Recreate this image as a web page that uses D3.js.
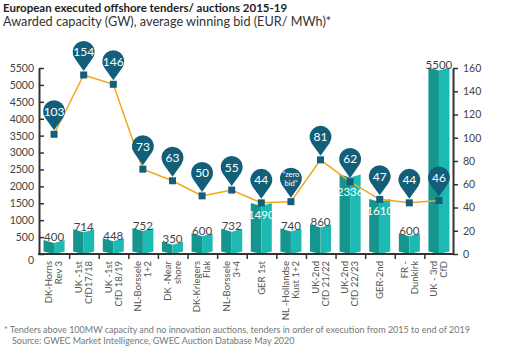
<!DOCTYPE html>
<html>
<head>
<meta charset="utf-8">
<script src="https://cdn.jsdelivr.net/npm/d3@7"></script>
<style>
  body { margin: 0; background: #fff; }
  svg { display: block; font-family: "Lato", "Noto Sans", sans-serif; }
</style>
</head>
<body>
<div id="chart"></div>
<script>
// tenders in order of execution
const tenders = [
    ["DK-Horns", "Rev 3"], ["UK -1st", "CfD17/18"], ["UK -1st", "CfD 18/19"],
    ["NL-Borssele", "1+2"], ["DK -Near", "shore"], ["DK-Kriegers", "Flak"],
    ["NL-Borssele", "3+4"], ["GER 1st"], ["NL -Hollandse", "Kust 1+2"],
    ["UK-2nd", "CfD 21/22"], ["UK-2nd", "CfD 22/23"], ["GER-2nd"],
    ["FR -", "Dunkirk"], ["UK - 3rd", "CfD"]
]
// awarded capacity (MW)
const capacity = [400, 714, 448, 752, 350, 600, 732, 1490, 740, 860, 2336, 1610, 600, 5500]
// average winning bid (EUR/MWh), zero bid shown at the level it is drawn
const bidValues = [103, 154, 146, 73, 63, 50, 55, 44, 45, 81, 62, 47, 44, 46]
const bidLabels = ["103", "154", "146", "73", "63", "50", "55", "44", "\u201Czero|bid\u201D", "81", "62", "47", "44", "46"]
const leftTicks = d3.range(0, 5501, 500)
const rightTicks = d3.range(0, 161, 20)

const W = 512, H = 348
const svg = d3.select('#chart').append('svg')
    .attr('width', W)
    .attr('height', H)

const x0 = 40, x1 = 453, yBase = 254, yTop = 68
const darkTeal = "#135f79"

svg.append("text")
    .attr("x", 3).attr("y", 12)
    .attr("font-size", 11.5).attr("font-weight", "bold").attr("fill", "#222")
    .text("European executed offshore tenders/ auctions 2015-19")
svg.append("text")
    .attr("x", 3).attr("y", 26)
    .attr("font-size", 12.7).attr("fill", "#333")
    .text("Awarded capacity (GW), average winning bid (EUR/ MWh)*")

const x = d3.scaleBand()
    .domain(d3.range(tenders.length))
    .range([x0, x1])
    .paddingInner(0.29)
    .paddingOuter(0.12)
const yL = d3.scaleLinear().domain([0, 5500]).range([yBase, yTop])
const yR = d3.scaleLinear().domain([0, 160]).range([yBase, yTop])

// bars: two-faced "book" shape
const bars = svg.append("g")
capacity.forEach((v, i) => {
    const bx = x(i), bw = x.bandwidth(), cx = bx + bw / 2
    const top = yL(v)
    bars.append("path")
        .attr("fill", "#14968e")
        .attr("d", `M${bx},${top - 0.5} L${cx},${top + 2.5} L${cx},${yBase} L${bx},${yBase - 2.5} Z`)
    bars.append("path")
        .attr("fill", "#1cbab2")
        .attr("d", `M${cx},${top + 2.5} L${bx + bw},${top - 0.5} L${bx + bw},${yBase - 2.5} L${cx},${yBase} Z`)
    const inside = v > 1000 && v < 5000
    // inside labels sit below the bid marker when it falls on the bar
    const yIn = Math.max(top + 15, yR(bidValues[i]) + 14)
    bars.append("text")
        .attr("x", cx)
        .attr("y", inside ? yIn : top + 1)
        .attr("text-anchor", "middle")
        .attr("font-size", 11.5)
        .attr("fill", inside ? "#fff" : "#444")
        .text(v)
})

// left axis
const gl = svg.append("g")
    .attr("transform", `translate(${x0 - 1},0)`)
    .call(d3.axisLeft(yL).tickValues(leftTicks).tickFormat(d3.format("d"))
        .tickSizeInner(-5).tickSizeOuter(0).tickPadding(5))
gl.select(".domain").attr("stroke", "#333").attr("stroke-width", 2)
gl.selectAll(".tick line").attr("stroke", "#333").attr("stroke-width", 1.5)
gl.selectAll("text").attr("font-size", 10.5).attr("fill", "#444").attr("font-family", "Lato")
gl.selectAll(".tick").filter(d => d === 0).select("text").attr("dy", "0.95em")

// right axis
const gr = svg.append("g")
    .attr("transform", `translate(${x1},0)`)
    .call(d3.axisRight(yR).tickValues(rightTicks).tickSizeInner(5).tickSizeOuter(0).tickPadding(5))
gr.select(".domain").attr("stroke", "#333").attr("stroke-width", 2)
gr.selectAll(".tick line").attr("stroke", "#333").attr("stroke-width", 1.5)
gr.selectAll("text").attr("font-size", 10.5).attr("fill", "#444").attr("font-family", "Lato")

// bottom axis with ticks between bands
const gb = svg.append("g")
gb.append("line")
    .attr("x1", x0 - 2).attr("x2", x1 + 1)
    .attr("y1", yBase).attr("y2", yBase)
    .attr("stroke", "#333").attr("stroke-width", 2)
d3.range(1, tenders.length).forEach(i => {
    const tx = x0 + i * x.step()
    gb.append("line")
        .attr("x1", tx).attr("x2", tx)
        .attr("y1", yBase).attr("y2", yBase + 5)
        .attr("stroke", "#333").attr("stroke-width", 1.5)
})

// rotated category labels
tenders.forEach((lines, i) => {
    const cx = x(i) + x.bandwidth() / 2
    const t = svg.append("text")
        .attr("transform", `translate(${cx},261) rotate(-90)`)
        .attr("text-anchor", "end")
        .attr("font-size", 9.5)
        .attr("fill", "#555")
    const off = (lines.length - 1) * 0.5
    lines.forEach((s, j) => {
        t.append("tspan")
            .attr("x", 0)
            .attr("y", 0)
            .attr("dy", `${(j - off) * 1.05 + 0.35}em`)
            .text(s)
    })
})

// bid line
const pts = bidValues.map((v, i) => [x(i) + x.bandwidth() / 2, yR(v)])
svg.append("path")
    .datum(pts)
    .attr("fill", "none")
    .attr("stroke", "#f3a61c")
    .attr("stroke-width", 1.5)
    .attr("d", d3.line())

// markers and pins
const r = 11, h = 19
const th = Math.acos(r / h)
const pin = `M0,${h} L${-r * Math.sin(th)},${r * Math.cos(th)} A${r},${r} 0 1 1 ${r * Math.sin(th)},${r * Math.cos(th)} Z`
pts.forEach((p, i) => {
    svg.append("rect")
        .attr("x", p[0] - 3.5).attr("y", p[1] - 3.5)
        .attr("width", 7).attr("height", 7)
        .attr("fill", darkTeal)
    const g = svg.append("g")
        .attr("transform", `translate(${p[0]},${p[1] - 23})`)
    g.append("path").attr("d", pin).attr("fill", darkTeal)
    const parts = bidLabels[i].split("|")
    if (parts.length > 1) {
        parts.forEach((s, j) => {
            g.append("text")
                .attr("y", j === 0 ? -1.8 : 7.2)
                .attr("text-anchor", "middle")
                .attr("font-size", 7.5)
                .attr("fill", "#fff")
                .text(s)
        })
    } else {
        g.append("text")
            .attr("y", 4.5)
            .attr("text-anchor", "middle")
            .attr("font-size", 12)
            .attr("fill", "#fff")
            .text(parts[0])
    }
})

// footnotes
svg.append("text")
    .attr("x", 4).attr("y", 333)
    .attr("font-size", 9).attr("fill", "#777")
    .text("* Tenders above 100MW capacity and no innovation auctions, tenders in order of execution from 2015 to end of 2019")
svg.append("text")
    .attr("x", 12).attr("y", 344)
    .attr("font-size", 9).attr("fill", "#777")
    .text("Source: GWEC Market Intelligence, GWEC Auction Database May 2020")
</script>
</body>
</html>
